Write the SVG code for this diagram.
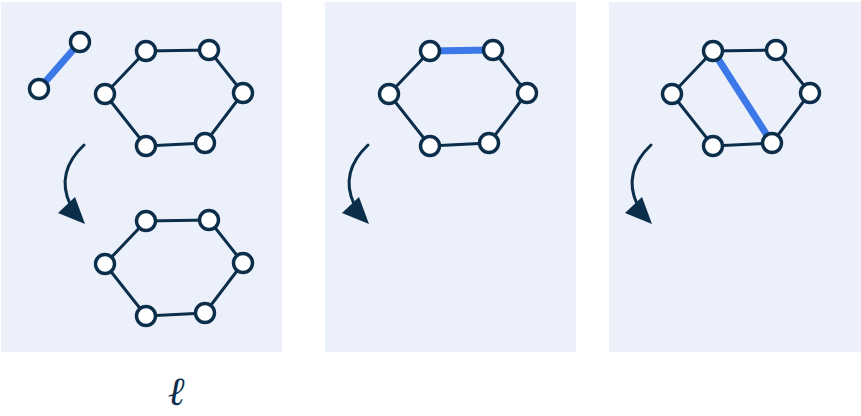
<svg xmlns="http://www.w3.org/2000/svg" width="861" height="416" viewBox="0 0 861 416">
  <style>
    .panel { fill: #ecf0fb; }
    .edge { stroke: #0b2e4b; stroke-width: 3; stroke-linecap: round; fill: none; }
    .hl { stroke: #3d78e9; stroke-width: 7; stroke-linecap: butt; fill: none; }
    .node { fill: #ffffff; stroke: #0b2e4b; stroke-width: 3.4; }
    .curve { stroke: #0b2e4b; stroke-width: 3; fill: none; stroke-linecap: round; }
    .head { fill: #0b2e4b; }
    .label { font-family: "DejaVu Serif", serif; font-style: italic; font-size: 40px; fill: #0b2e4b; }
  </style>
  <defs>
    <!-- six-node ring; edges first, nodes on top -->
    <g id="ring">
      <polygon class="edge" points="146,51 209,50 243,93 205,143 146,146 105,94"/>
    </g>
    <g id="ringNodes">
      <circle class="node" cx="146" cy="51" r="9.5"/>
      <circle class="node" cx="209" cy="50" r="9.5"/>
      <circle class="node" cx="243" cy="93" r="9.5"/>
      <circle class="node" cx="205" cy="143" r="9.5"/>
      <circle class="node" cx="146" cy="146" r="9.5"/>
      <circle class="node" cx="105" cy="94" r="9.5"/>
    </g>
    <g id="turn">
      <path class="curve" d="M84,145 C66,162 60,182 70,204"/>
      <polygon class="head" points="58,213 85,224 75,197"/>
    </g>
  </defs>

  <!-- background panels -->
  <rect class="panel" x="1" y="2" width="281" height="350"/>
  <rect class="panel" x="325" y="2" width="251" height="350"/>
  <rect class="panel" x="609" y="2" width="252" height="350"/>

  <!-- connectors -->
  <g id="connectors">
    <use href="#ring"/>
    <use href="#ring" transform="translate(0,170)"/>
    <use href="#ring" transform="translate(284,0)"/>
    <use href="#ring" transform="translate(567,0)"/>
    <line class="hl" x1="39" y1="89" x2="80" y2="42"/>
    <line class="hl" x1="430" y1="51" x2="493" y2="50"/>
    <line class="hl" x1="713" y1="51" x2="772" y2="143"/>
    <use href="#turn"/>
    <use href="#turn" transform="translate(284,0)"/>
    <use href="#turn" transform="translate(567,0)"/>
  </g>

  <!-- panel 1 -->
  <g id="pair">
    <circle class="node" cx="39" cy="89" r="9.5"/>
    <circle class="node" cx="80" cy="42" r="9.5"/>
  </g>
  <g id="ring-a"><use href="#ringNodes"/></g>
  <g id="ring-b"><use href="#ringNodes" transform="translate(0,170)"/></g>

  <!-- panel 2 -->
  <g id="ring-c"><use href="#ringNodes" transform="translate(284,0)"/></g>

  <!-- panel 3 -->
  <g id="ring-d"><use href="#ringNodes" transform="translate(567,0)"/></g>

  <text class="label" x="176" y="405" text-anchor="middle">ℓ</text>
</svg>
